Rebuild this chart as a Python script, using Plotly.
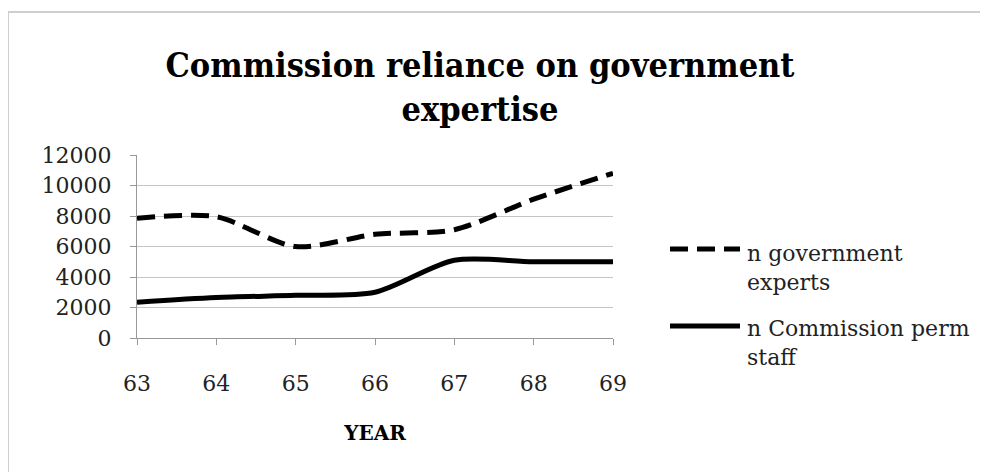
import plotly.graph_objects as go

years = [63, 64, 65, 66, 67, 68, 69]
gov_experts = [7850, 7950, 6000, 6800, 7100, 9100, 10800]
perm_staff = [2350, 2650, 2800, 3000, 5100, 5000, 5000]
y_ticks = [0, 2000, 4000, 6000, 8000, 10000, 12000]
series_names = ["n government<br>experts", "n Commission perm<br>staff"]

serif = "DejaVu Serif"
W, H = 980, 464            # page has an 8px body margin
L, R, T, B = 129, 375, 147, 134
pw = W - L - R
ph = H - T - B

def px(xf):   # figure x pixel -> paper
    return (xf - L) / pw

def py(yf):   # figure y pixel -> paper
    return (H - B - yf) / ph

dash_style = "18px,9px"
lw = 5

fig = go.Figure()
fig.add_trace(go.Scatter(
    x=years, y=gov_experts, mode="lines", name=series_names[0], showlegend=False,
    line=dict(color="black", width=lw, dash=dash_style, shape="spline", smoothing=0.8),
))
fig.add_trace(go.Scatter(
    x=years, y=perm_staff, mode="lines", name=series_names[1], showlegend=False,
    line=dict(color="black", width=lw, shape="spline", smoothing=0.8),
))

border = dict(color="#cfcfcf", width=2)
shapes = [
    dict(type="line", xref="paper", yref="paper", x0=px(0), x1=px(W), y0=py(4), y1=py(4),
         line=border, layer="below"),
    dict(type="line", xref="paper", yref="paper", x0=px(0), x1=px(0), y0=py(4), y1=py(H),
         line=border, layer="below"),
]
annotations = []
legend_rows = [(241, 259.5, dash_style), (318, 334.5, "solid")]
for name, (line_y, text_y, dsh) in zip(series_names, legend_rows):
    shapes.append(dict(
        type="line", xref="paper", yref="paper",
        x0=px(662), x1=px(732), y0=py(line_y), y1=py(line_y),
        line=dict(color="black", width=lw, dash=dsh),
    ))
    annotations.append(dict(
        xref="paper", yref="paper", x=px(737), y=py(text_y),
        xanchor="left", yanchor="middle", align="left", showarrow=False,
        text=name, font=dict(family=serif, size=22, color="#222"),
    ))

fig.update_layout(
    width=W, height=H,
    margin=dict(l=L, r=R, t=T, b=B),
    paper_bgcolor="white", plot_bgcolor="white",
    font=dict(family=serif, color="#222", size=22),
    title=dict(
        text="<b>Commission reliance on government<br>expertise</b>",
        x=472 / W, xanchor="center", xref="container",
        y=1 - 69 / H, yanchor="top", yref="container",
        font=dict(family="DejaVu Serif Condensed", size=34, color="black"),
    ),
    showlegend=False,
    xaxis=dict(
        range=[63, 69], tickvals=years, ticktext=[str(y) for y in years],
        showgrid=False, showline=True, linecolor="#999", linewidth=1,
        ticks="outside", ticklen=6, tickcolor="#999",
        ticklabelstandoff=20,
        tickfont=dict(family=serif, size=22, color="#222"),
        zeroline=False,
        title=dict(text="<b>YEAR</b>", font=dict(family=serif, size=20, color="black"), standoff=30),
    ),
    yaxis=dict(
        range=[0, 12000], tickvals=y_ticks, ticktext=[str(v) for v in y_ticks],
        showgrid=True, gridcolor="#c4c4c4", gridwidth=1,
        showline=True, linecolor="#999", linewidth=1,
        ticks="outside", ticklen=6, tickcolor="#999",
        ticklabelstandoff=14,
        tickfont=dict(family=serif, size=22, color="#222"),
        zeroline=False,
    ),
    shapes=shapes,
    annotations=annotations,
)

fig.write_html("out.html")
